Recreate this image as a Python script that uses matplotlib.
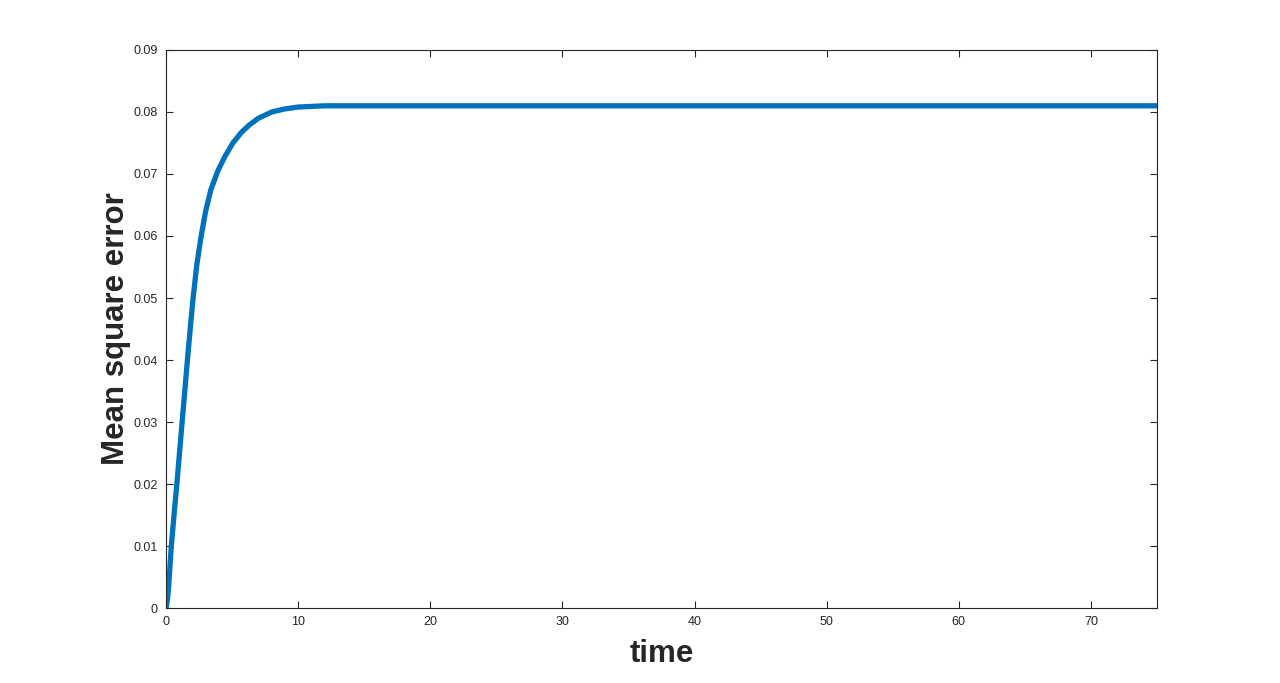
import numpy as np
import matplotlib.pyplot as plt

# values
time = [0, 0.1, 0.2, 0.4, 0.62, 0.82, 1.02, 1.22, 1.42, 1.62, 1.84, 2.05, 2.34, 2.66,
        3.0, 3.4, 3.92, 4.45, 5.06, 5.7, 6.3, 7.0, 8.0, 9.0, 10.0, 11.0, 12.0, 13.5,
        15, 20, 30, 40, 50, 60, 75]
mse = [0, 0.0012, 0.0035, 0.0100, 0.0153, 0.0200, 0.0250, 0.0300, 0.0350, 0.0400,
       0.0452, 0.0500, 0.0555, 0.0600, 0.0640, 0.0675, 0.0705, 0.0728, 0.0750, 0.0767,
       0.0779, 0.0790, 0.0800, 0.0805, 0.0808, 0.0809, 0.0810, 0.0810,
       0.0810, 0.0810, 0.0810, 0.0810, 0.0810, 0.0810, 0.0810]

xticks = [0, 10, 20, 30, 40, 50, 60, 70]
yticks = [0, 0.01, 0.02, 0.03, 0.04, 0.05, 0.06, 0.07, 0.08, 0.09]

plt.rcParams['font.family'] = ['Liberation Sans', 'DejaVu Sans']

fig = plt.figure(figsize=(12.8, 6.83), dpi=100)
ax = fig.add_axes([0.1297, 0.1098, 0.7742, 0.8170])

ax.plot(time, mse, color='#0072BD', linewidth=3.8, solid_capstyle='round')

ax.set_xlim(0, 75)
ax.set_ylim(0, 0.09)
ax.set_xticks(xticks)
ax.set_yticks(yticks)
ax.set_yticklabels(['0', '0.01', '0.02', '0.03', '0.04', '0.05', '0.06', '0.07', '0.08', '0.09'])

ax.tick_params(direction='in', top=True, right=True, length=5, width=0.8,
               labelsize=9, colors='#262626', pad=6)
for s in ax.spines.values():
    s.set_color('#262626')
    s.set_linewidth(0.8)

ax.set_xlabel('time', fontsize=22.5, fontweight='bold', color='#262626', labelpad=8)
ax.set_ylabel('Mean square error', fontsize=22.5, fontweight='bold', color='#262626', labelpad=2)

fig.savefig('out.png', dpi=100)
